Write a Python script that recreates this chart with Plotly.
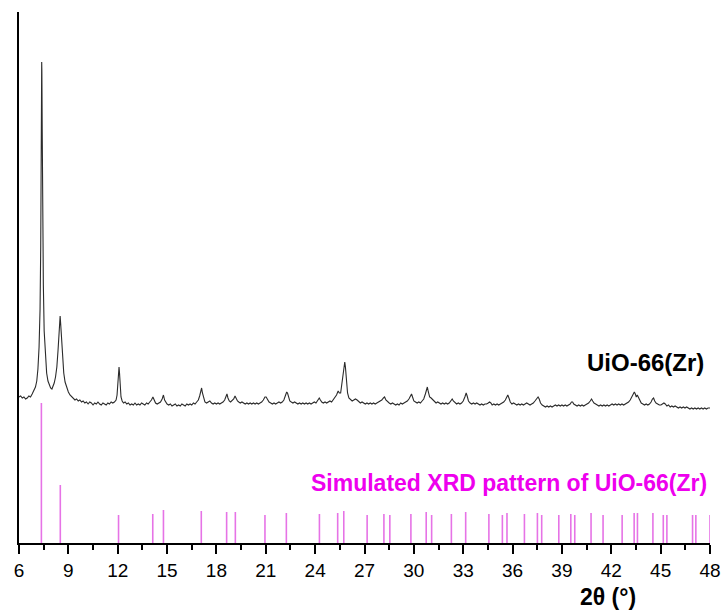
import plotly.graph_objects as go

# Experimental pattern (2theta in degrees, intensity in a.u.)
exp_2theta = [
    6.0, 6.1, 6.2, 6.3, 6.4, 6.5, 6.6, 6.7, 6.8, 6.9, 7.0, 7.08, 7.15, 7.22, 7.28, 7.32, 7.35, 7.37, 7.38, 7.39,
    7.41, 7.44, 7.48, 7.53, 7.6, 7.68, 7.76, 7.84, 7.92, 8.0, 8.06, 8.14, 8.22, 8.3, 8.37, 8.43, 8.48, 8.5, 8.53, 8.58,
    8.64, 8.72, 8.8, 8.9, 9.0, 9.1, 9.2, 9.3, 9.4, 9.5, 9.6, 9.7, 9.8, 9.9, 10.0, 10.1, 10.2, 10.3, 10.4, 10.5,
    10.6, 10.7, 10.8, 10.9, 11.0, 11.1, 11.2, 11.3, 11.4, 11.5, 11.6, 11.7, 11.8, 11.9, 11.96, 12.0, 12.04, 12.08, 12.11, 12.15,
    12.2, 12.27, 12.35, 12.45, 12.55, 12.65, 12.75, 12.85, 12.95, 13.05, 13.15, 13.25, 13.35, 13.45, 13.55, 13.65, 13.75, 13.85, 13.95, 14.05,
    14.14, 14.22, 14.3, 14.4, 14.5, 14.6, 14.7, 14.78, 14.85, 14.93, 15.0, 15.1, 15.2, 15.3, 15.4, 15.5, 15.6, 15.7, 15.8, 15.9,
    16.0, 16.1, 16.2, 16.3, 16.4, 16.5, 16.6, 16.7, 16.8, 16.9, 16.98, 17.05, 17.1, 17.15, 17.22, 17.3, 17.4, 17.5, 17.6, 17.7,
    17.8, 17.9, 18.0, 18.1, 18.2, 18.3, 18.4, 18.5, 18.58, 18.64, 18.7, 18.78, 18.86, 18.95, 19.05, 19.13, 19.2, 19.28, 19.36, 19.45,
    19.55, 19.65, 19.75, 19.85, 19.95, 20.05, 20.15, 20.25, 20.35, 20.45, 20.55, 20.65, 20.75, 20.85, 20.95, 21.02, 21.1, 21.2, 21.3, 21.4,
    21.5, 21.6, 21.7, 21.8, 21.9, 22.0, 22.1, 22.2, 22.27, 22.32, 22.38, 22.46, 22.55, 22.65, 22.75, 22.85, 22.95, 23.05, 23.15, 23.25,
    23.35, 23.45, 23.55, 23.65, 23.75, 23.85, 23.95, 24.05, 24.15, 24.25, 24.32, 24.4, 24.5, 24.6, 24.7, 24.8, 24.9, 25.0, 25.1, 25.2,
    25.3, 25.4, 25.47, 25.55, 25.62, 25.7, 25.77, 25.8, 25.84, 25.9, 25.97, 26.05, 26.15, 26.25, 26.35, 26.45, 26.55, 26.65, 26.75, 26.85,
    26.95, 27.05, 27.15, 27.25, 27.35, 27.45, 27.55, 27.65, 27.75, 27.85, 27.95, 28.05, 28.15, 28.22, 28.3, 28.4, 28.5, 28.6, 28.7, 28.8,
    28.9, 29.0, 29.1, 29.2, 29.3, 29.4, 29.5, 29.6, 29.7, 29.8, 29.86, 29.92, 30.0, 30.1, 30.2, 30.3, 30.4, 30.5, 30.6, 30.7,
    30.77, 30.82, 30.88, 30.96, 31.05, 31.15, 31.25, 31.35, 31.45, 31.55, 31.65, 31.75, 31.85, 31.95, 32.05, 32.15, 32.25, 32.33, 32.4, 32.5,
    32.6, 32.7, 32.8, 32.9, 33.0, 33.1, 33.18, 33.24, 33.32, 33.42, 33.52, 33.62, 33.72, 33.82, 33.92, 34.02, 34.12, 34.22, 34.32, 34.42,
    34.52, 34.6, 34.68, 34.76, 34.86, 34.96, 35.06, 35.16, 35.26, 35.36, 35.46, 35.56, 35.64, 35.71, 35.78, 35.86, 35.96, 36.06, 36.16, 36.26,
    36.36, 36.46, 36.56, 36.66, 36.76, 36.86, 36.96, 37.06, 37.16, 37.26, 37.36, 37.46, 37.55, 37.62, 37.7, 37.8, 37.9, 38.0, 38.1, 38.2,
    38.3, 38.4, 38.5, 38.6, 38.7, 38.8, 38.9, 39.0, 39.1, 39.2, 39.3, 39.4, 39.5, 39.58, 39.65, 39.72, 39.82, 39.92, 40.02, 40.12,
    40.22, 40.32, 40.42, 40.52, 40.62, 40.72, 40.8, 40.87, 40.95, 41.05, 41.15, 41.25, 41.35, 41.45, 41.55, 41.65, 41.75, 41.85, 41.95, 42.05,
    42.15, 42.25, 42.35, 42.45, 42.55, 42.65, 42.75, 42.85, 42.95, 43.05, 43.15, 43.25, 43.33, 43.4, 43.46, 43.52, 43.58, 43.64, 43.72, 43.82,
    43.92, 44.02, 44.12, 44.22, 44.32, 44.42, 44.5, 44.57, 44.64, 44.72, 44.82, 44.92, 45.02, 45.12, 45.2, 45.28, 45.38, 45.48, 45.58, 45.68,
    45.78, 45.88, 45.98, 46.08, 46.18, 46.28, 46.38, 46.48, 46.58, 46.68, 46.78, 46.88, 46.98, 47.08, 47.18, 47.28, 47.38, 47.48, 47.58, 47.68,
    47.78, 47.88, 48.0,
]
exp_intensity = [
    146, 147, 145, 146, 144, 145, 147, 146, 149, 152, 156, 162, 174, 196, 234, 296, 385, 452, 481, 472,
    415, 328, 258, 212, 184, 170, 162, 158, 155, 154, 156, 160, 166, 176, 192, 210, 224, 227, 220, 204,
    186, 170, 161, 155, 151, 148, 146, 145, 143, 144, 142, 143, 141, 142, 140, 141, 139, 141, 140, 138,
    140, 139, 141, 139, 138, 140, 139, 138, 140, 139, 141, 140, 141, 143, 148, 156, 168, 176, 170, 156,
    146, 142, 140, 141, 139, 140, 138, 139, 138, 140, 138, 139, 138, 140, 139, 138, 140, 139, 141, 143,
    146, 142, 140, 139, 140, 141, 144, 148, 143, 140, 139, 138, 139, 137, 138, 139, 137, 138, 137, 139,
    138, 137, 139, 138, 139, 138, 140, 139, 141, 143, 147, 152, 155, 150, 144, 141, 140, 141, 142, 140,
    139, 140, 139, 140, 139, 140, 141, 143, 147, 149, 145, 142, 141, 142, 144, 147, 144, 142, 141, 140,
    141, 140, 139, 140, 139, 140, 139, 140, 139, 140, 139, 140, 141, 143, 146, 146, 143, 141, 140, 139,
    140, 139, 140, 141, 140, 141, 143, 147, 151, 150, 145, 142, 141, 140, 141, 140, 139, 140, 139, 140,
    139, 140, 139, 140, 139, 140, 141, 140, 142, 145, 143, 141, 140, 141, 140, 141, 142, 141, 143, 145,
    148, 152, 150, 150, 160, 172, 180, 181, 176, 162, 150, 145, 143, 142, 143, 144, 143, 141, 140, 141,
    140, 139, 140, 139, 140, 139, 140, 139, 140, 141, 142, 143, 145, 146, 143, 141, 140, 139, 140, 139,
    138, 139, 138, 140, 139, 140, 141, 142, 144, 147, 149, 146, 142, 141, 140, 141, 140, 142, 144, 149,
    155, 156, 151, 146, 145, 143, 141, 140, 141, 140, 139, 140, 139, 140, 139, 140, 142, 144, 142, 140,
    139, 140, 139, 140, 142, 146, 150, 147, 142, 140, 139, 140, 139, 140, 139, 138, 139, 138, 139, 139,
    140, 141, 140, 138, 139, 138, 139, 138, 139, 140, 141, 143, 146, 148, 145, 141, 139, 140, 139, 138,
    139, 138, 139, 138, 139, 140, 139, 138, 139, 140, 142, 144, 146, 144, 140, 138, 137, 136, 137, 136,
    137, 136, 137, 138, 137, 138, 137, 138, 137, 138, 137, 138, 139, 141, 141, 139, 138, 137, 138, 137,
    138, 137, 138, 139, 140, 142, 144, 142, 140, 139, 138, 137, 138, 137, 138, 137, 138, 137, 138, 139,
    138, 139, 138, 139, 138, 139, 138, 139, 140, 141, 143, 146, 149, 151, 149, 146, 148, 146, 142, 140,
    139, 138, 139, 138, 139, 141, 144, 145, 142, 140, 139, 138, 138, 139, 140, 139, 137, 138, 136, 137,
    136, 137, 136, 135, 136, 135, 136, 135, 136, 135, 134, 135, 134, 135, 134, 135, 134, 135, 134, 135,
    134, 135, 135,
]

# Simulated reflections (stick pattern)
sim_2theta = [
    7.36, 8.51, 12.05, 14.13, 14.78, 17.08, 18.62, 19.15, 20.95, 22.25, 24.26, 25.37, 25.74,
    27.16, 28.18, 28.54, 29.82, 30.75, 31.08, 32.28, 33.15, 34.56, 35.38, 35.66, 36.72, 37.51, 37.77,
    38.81, 39.54, 39.78, 40.77, 41.5, 42.66, 43.39, 43.59, 44.53, 45.16, 45.38, 46.94, 47.14, 48.0,
]
sim_intensity = [
    140, 58, 28, 29, 33, 32, 31, 31, 28, 30, 29, 30, 32,
    28, 29, 28, 29, 31, 28, 29, 31, 29, 28, 30, 29, 30, 28,
    28, 29, 28, 30, 28, 28, 30, 30, 30, 28, 28, 28, 28, 28,
]

x_ticks = [6, 9, 12, 15, 18, 21, 24, 27, 30, 33, 36, 39, 42, 45, 48]

sample_label = "UiO-66(Zr)"
sim_label = "Simulated XRD pattern of UiO-66(Zr)"
x_title = "2θ (°)"

# Build stick segments from the simulated data
stick_x, stick_y = [], []
for t, h in zip(sim_2theta, sim_intensity):
    stick_x += [t, t, None]
    stick_y += [0, h, None]

FONT = "Arial, 'Liberation Sans', sans-serif"

fig = go.Figure()
fig.add_trace(go.Scatter(x=stick_x, y=stick_y, mode="lines",
                         line=dict(color="#E673E6", width=1.6), showlegend=False,
                         hoverinfo="skip"))
fig.add_trace(go.Scatter(x=exp_2theta, y=exp_intensity, mode="lines",
                         line=dict(color="#2b2b2b", width=1.1), showlegend=False))

fig.update_layout(
    width=721, height=610,
    margin=dict(l=19, r=11, t=12, b=67),
    paper_bgcolor="white", plot_bgcolor="white",
    font=dict(family=FONT, color="black"),
    xaxis=dict(range=[6, 48], tickvals=x_ticks, ticktext=[str(v) for v in x_ticks],
               automargin=False, ticklabeloverflow="allow",
               showline=True, linecolor="black", linewidth=2, mirror=False,
               ticks="outside", ticklen=9, tickwidth=2, tickcolor="black",
               tickfont=dict(size=19, family=FONT, color="black"),
               minor=dict(dtick=1.5, tick0=6, ticks="outside", ticklen=5, tickwidth=1.5,
                          tickcolor="black", showgrid=False),
               showgrid=False, zeroline=False),
    yaxis=dict(range=[0, 531], automargin=False,
               showline=True, linecolor="black", linewidth=2,
               showticklabels=False, ticks="", showgrid=False, zeroline=False),
    annotations=[
        dict(text=f"<b>{sample_label}</b>", xref="paper", yref="paper",
             x=0.9935, y=0.339, xanchor="right", yanchor="middle", showarrow=False,
             font=dict(size=24, family=FONT, color="black")),
        dict(text=f"<b>{sim_label}</b>", xref="paper", yref="paper",
             x=0.998, y=0.113, xanchor="right", yanchor="middle", showarrow=False,
             font=dict(size=23, family=FONT, color="#EE00EE")),
        dict(text=f"<b>{x_title}</b>", xref="paper", yref="paper",
             x=0.852, y=-0.1017, xanchor="center", yanchor="middle", showarrow=False,
             font=dict(size=23, family=FONT, color="black")),
    ],
)

# Remove the default page margin so the 721x610 figure fills the window exactly
fig.write_html("out.html",
               config={"displayModeBar": False},
               post_script="document.body.style.margin='0';document.body.style.overflow='hidden';")
